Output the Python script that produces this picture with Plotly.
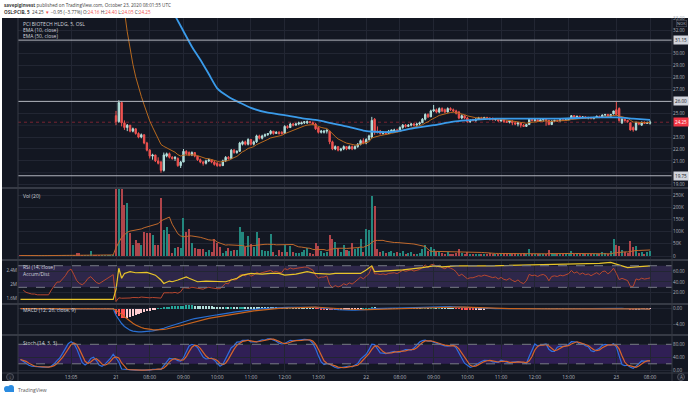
import plotly.graph_objects as go

# ------------------------------------------------------------------ data
tick_idx = [18, 34, 46, 58, 70, 82, 94, 106, 123, 135, 147, 159, 171, 183, 195, 212, 224]
tick_txt = ["13:05", "21", "08:00", "09:00", "10:00", "11:00", "12:00", "13:00", "22",
            "08:00", "09:00", "10:00", "11:00", "12:00", "13:00", "23", "08:00"]

open_ = [
    45.4, 45.3, 45.1, 44.9, 44.8, 44.7, 44.7, 44.6, 44.6, 44.6, 44.6, 44.6, 44.7, 44.8, 44.9, 44.9, 45.0,
    45.1, 45.3, 45.4, 45.2, 44.9, 44.7, 44.6, 44.7, 44.9, 45.0, 44.8, 44.6, 44.5, 44.6, 44.7, 44.8, 44.9,
    24.8, 24.3, 25.9, 24.2, 23.8, 24.0, 23.5, 23.7, 23.3, 23.0,
    23.2, 22.5, 21.9, 21.4, 21.5, 21.0, 20.9, 20.2, 21.4, 21.6,
    21.3, 21.2, 21.2, 20.6, 20.9, 21.8, 21.7, 21.5, 21.7, 21.4,
    21.1, 20.9, 20.8, 21.0, 21.1, 20.9, 20.8, 20.7, 20.6, 21.0,
    21.3, 21.2, 21.9, 21.7, 21.8, 22.4, 22.6, 22.4, 22.8, 22.4,
    22.6, 23.1, 22.9, 23.1, 23.2, 23.3, 23.5, 23.3, 23.4, 23.4,
    23.3, 23.9, 23.8, 24.1, 24.0, 24.1, 24.1, 24.2, 24.2, 24.3,
    24.2, 24.1, 23.8, 23.4, 23.4, 23.5, 23.5, 22.6, 22.0, 22.2,
    21.9, 22.0, 22.2, 22.0, 22.2, 22.0, 22.2, 22.4, 22.7, 22.5,
    22.8, 23.0, 24.5,
    23.5, 23.5, 23.3, 23.4, 23.3, 23.5, 23.5, 23.6, 23.5, 23.8,
    24.0, 23.9, 24.0, 24.1, 24.0, 24.1, 24.2, 24.5, 24.9, 24.7,
    25.2, 25.3, 25.1, 25.4, 25.3, 25.1, 25.4, 25.3, 25.2, 25.1,
    24.6, 24.8, 24.6, 24.3, 24.5, 24.4, 24.5, 24.6, 24.55, 24.65,
    24.6, 24.6, 24.45, 24.5, 24.35, 24.45, 24.3, 24.25, 24.35, 24.2,
    24.1, 24.2, 24.0, 23.9, 24.05, 24.5, 24.4, 24.45, 24.35, 24.45,
    24.5, 24.4, 24.05, 24.35, 24.4, 24.35, 24.45, 24.4, 24.45, 24.55,
    24.8, 24.65, 24.75, 24.6, 24.7, 24.6, 24.65, 24.55, 24.65, 24.75,
    24.65, 24.85, 24.9, 24.75, 24.95,
    25.3, 25.4, 24.2, 24.5, 24.4, 24.2, 23.8, 23.6, 24.2, 24.0, 24.25, 24.15, 24.16,
]
high_ = [
    45.5, 45.4, 45.2, 45.0, 44.9, 44.8, 44.8, 44.7, 44.7, 44.7, 44.7, 44.8, 44.9, 45.0, 45.0, 45.1, 45.2,
    45.4, 45.5, 45.5, 45.3, 45.0, 44.8, 44.8, 45.0, 45.1, 45.1, 44.9, 44.7, 44.7, 44.8, 44.9, 45.0, 45.1,
    25.2, 26.1, 26.0, 24.4, 24.1, 24.0, 23.8, 23.7, 23.4, 23.3,
    23.2, 22.6, 22.0, 21.6, 21.5, 21.3, 21.0, 21.7, 21.7, 21.7,
    21.4, 21.4, 21.3, 21.0, 22.0, 21.9, 21.8, 21.8, 21.7, 21.4,
    21.2, 21.0, 21.1, 21.2, 21.1, 21.0, 20.9, 20.8, 21.1, 21.4,
    21.4, 22.0, 22.0, 21.9, 22.6, 22.7, 22.7, 22.9, 22.8, 22.7,
    23.2, 23.2, 23.2, 23.3, 23.3, 23.6, 23.5, 23.5, 23.5, 23.5,
    24.0, 24.0, 24.2, 24.2, 24.2, 24.3, 24.3, 24.3, 24.4, 24.3,
    24.3, 24.2, 23.8, 23.6, 23.6, 23.6, 23.5, 22.7, 22.3, 22.2,
    22.1, 22.3, 22.2, 22.3, 22.3, 22.3, 22.5, 22.8, 22.9, 22.9,
    23.2, 24.7, 24.6,
    23.9, 23.6, 23.5, 23.5, 23.6, 23.6, 23.7, 23.7, 23.9, 24.1,
    24.1, 24.1, 24.2, 24.2, 24.2, 24.3, 24.6, 25.0, 25.0, 25.3,
    25.7, 25.4, 25.5, 25.5, 25.4, 25.5, 25.5, 25.4, 25.3, 25.2,
    24.9, 24.8, 24.7, 24.5, 24.5, 24.6, 24.7, 24.7, 24.7, 24.7,
    24.65, 24.6, 24.6, 24.55, 24.5, 24.5, 24.4, 24.4, 24.4, 24.3,
    24.25, 24.2, 24.1, 24.1, 24.6, 24.6, 24.5, 24.5, 24.5, 24.55,
    24.5, 24.45, 24.4, 24.45, 24.45, 24.5, 24.5, 24.5, 24.6, 24.85,
    24.85, 24.8, 24.8, 24.75, 24.75, 24.7, 24.7, 24.7, 24.8, 24.8,
    24.9, 24.95, 24.95, 24.95, 25.2,
    26.0, 25.5, 24.6, 24.55, 24.45, 24.2, 23.9, 24.3, 24.25, 24.3, 24.3, 24.3, 24.40,
]
low_ = [
    45.2, 45.0, 44.8, 44.7, 44.6, 44.6, 44.5, 44.5, 44.5, 44.5, 44.5, 44.5, 44.6, 44.7, 44.8, 44.8, 44.9,
    45.0, 45.2, 45.1, 44.8, 44.6, 44.5, 44.5, 44.6, 44.8, 44.7, 44.5, 44.4, 44.4, 44.5, 44.6, 44.7, 44.8,
    24.0, 24.2, 23.9, 23.6, 23.5, 23.4, 23.4, 23.2, 22.9, 22.9,
    22.4, 21.8, 21.2, 21.1, 20.9, 20.7, 20.0, 20.1, 21.3, 21.2,
    21.1, 21.0, 20.5, 20.4, 20.9, 21.5, 21.4, 21.4, 21.3, 21.0,
    20.8, 20.6, 20.7, 20.9, 20.8, 20.6, 20.5, 20.5, 20.6, 20.9,
    21.1, 21.2, 21.6, 21.6, 21.8, 22.3, 22.3, 22.3, 22.3, 22.3,
    22.5, 22.8, 22.8, 23.0, 23.1, 23.2, 23.2, 23.3, 23.2, 23.2,
    23.3, 23.7, 23.8, 23.9, 24.0, 24.0, 24.1, 24.1, 24.1, 24.2,
    24.0, 23.6, 23.3, 23.3, 23.3, 23.3, 22.4, 21.9, 21.9, 21.8,
    21.8, 21.9, 21.9, 22.0, 21.9, 22.0, 22.1, 22.3, 22.4, 22.4,
    22.7, 22.9, 23.2,
    23.3, 23.2, 23.2, 23.2, 23.3, 23.4, 23.4, 23.4, 23.5, 23.7,
    23.8, 23.9, 23.9, 23.9, 24.0, 24.0, 24.2, 24.4, 24.6, 24.7,
    25.1, 25.0, 25.0, 25.1, 25.0, 25.1, 25.2, 25.1, 24.9, 24.5,
    24.5, 24.5, 24.2, 24.2, 24.3, 24.3, 24.5, 24.5, 24.5, 24.5,
    24.4, 24.4, 24.4, 24.3, 24.3, 24.2, 24.2, 24.15, 24.0, 24.0,
    23.9, 23.8, 23.85, 24.0, 24.3, 24.3, 24.3, 24.3, 24.4, 24.3,
    23.95, 24.0, 24.3, 24.3, 24.3, 24.35, 24.35, 24.4, 24.5, 24.6,
    24.6, 24.55, 24.55, 24.55, 24.55, 24.5, 24.5, 24.5, 24.6, 24.6,
    24.6, 24.75, 24.7, 24.7, 24.9,
    24.8, 24.3, 24.1, 24.3, 24.2, 23.55, 23.45, 23.55, 24.0, 23.95, 24.1, 24.1, 24.05,
]
close_ = [
    45.3, 45.1, 44.9, 44.8, 44.7, 44.7, 44.6, 44.6, 44.6, 44.6, 44.6, 44.7, 44.8, 44.9, 44.9, 45.0, 45.1,
    45.3, 45.4, 45.2, 44.9, 44.7, 44.6, 44.7, 44.9, 45.0, 44.8, 44.6, 44.5, 44.6, 44.7, 44.8, 44.9, 45.0,
    24.3, 25.9, 24.2, 23.8, 24.0, 23.5, 23.7, 23.3, 23.0, 23.2,
    22.5, 21.9, 21.4, 21.5, 21.0, 20.8, 20.2, 21.5, 21.6, 21.3,
    21.2, 21.3, 20.6, 20.9, 21.8, 21.6, 21.5, 21.7, 21.4, 21.1,
    20.9, 20.8, 21.0, 21.1, 20.9, 20.7, 20.6, 20.6, 21.0, 21.3,
    21.2, 21.9, 21.7, 21.8, 22.5, 22.6, 22.4, 22.8, 22.4, 22.6,
    23.1, 22.9, 23.1, 23.2, 23.3, 23.5, 23.3, 23.4, 23.3, 23.3,
    23.9, 23.8, 24.1, 24.0, 24.1, 24.2, 24.2, 24.3, 24.3, 24.2,
    24.1, 23.7, 23.4, 23.5, 23.5, 23.6, 22.6, 22.0, 22.2, 21.9,
    22.0, 22.2, 22.0, 22.2, 22.0, 22.2, 22.4, 22.7, 22.5, 22.8,
    23.1, 24.4, 23.4,
    23.4, 23.3, 23.4, 23.3, 23.5, 23.6, 23.6, 23.5, 23.8, 24.0,
    23.9, 24.0, 24.1, 24.0, 24.1, 24.2, 24.5, 24.9, 24.7, 25.2,
    25.3, 25.1, 25.4, 25.2, 25.1, 25.4, 25.3, 25.2, 25.0, 24.6,
    24.8, 24.6, 24.3, 24.4, 24.4, 24.5, 24.6, 24.55, 24.65, 24.6,
    24.5, 24.45, 24.5, 24.35, 24.45, 24.3, 24.25, 24.35, 24.2, 24.1,
    24.2, 24.0, 23.9, 24.05, 24.5, 24.4, 24.45, 24.35, 24.45, 24.5,
    24.4, 24.05, 24.35, 24.4, 24.35, 24.45, 24.4, 24.45, 24.55, 24.8,
    24.65, 24.75, 24.6, 24.7, 24.6, 24.65, 24.55, 24.65, 24.75, 24.65,
    24.85, 24.9, 24.75, 24.9, 25.2,
    24.9, 24.4, 24.5, 24.4, 24.3, 23.6, 23.6, 24.2, 24.1, 24.25, 24.15, 24.2, 24.25,
]
volume_k = [
    2, 1, 3, 1, 2, 1, 1, 2, 1, 3, 2, 1, 2, 3, 2, 1, 2, 4, 3, 2, 14, 11, 3, 2, 2, 22, 3, 2, 1, 2, 3, 2, 2, 3,
    600, 450, 400, 209, 216, 93, 45, 65, 52, 45,
    100, 93, 96, 86, 45, 45, 236, 107, 120, 90,
    11, 31, 38, 31, 154, 100, 109, 52, 31, 29,
    27, 27, 18, 25, 18, 68, 52, 38, 14, 22,
    31, 22, 25, 25, 120, 100, 38, 82, 49, 38,
    97, 72, 25, 22, 22, 90, 18, 4, 25, 18,
    45, 18, 41, 18, 14, 14, 18, 25, 31, 14,
    8, 52, 41, 20, 14, 18, 86, 68, 59, 31,
    18, 45, 25, 22, 52, 27, 31, 68, 18, 109,
    106, 247, 205, 27, 18, 20, 14, 18, 20, 14,
    18, 14, 20, 10, 12, 15, 8, 10, 14, 30,
    45, 20, 35, 28, 15, 18, 12, 10, 15, 8,
    10, 14, 30, 12, 10, 18, 8, 6, 8, 10,
    5, 6, 5, 12, 8, 5, 10, 6, 8, 5,
    6, 8, 12, 6, 10, 14, 8, 30, 10, 6,
    8, 6, 5, 8, 25, 12, 6, 5, 6, 5,
    6, 10, 20, 8, 6, 8, 5, 6, 5, 8,
    6, 10, 8, 15, 12, 10, 20, 68, 45, 40,
    25, 15, 12, 63, 35, 40, 12, 18, 10, 15, 20,
]
# EMA(50) (bar index, price)
ema50_idx = [50, 53, 55, 58, 61, 64, 67, 70, 74, 78, 82, 88, 94, 100, 106, 110, 116, 122, 126, 133,
             140, 147, 154, 159, 169, 180, 192, 204, 212, 218, 224]
ema50_val = [35.2, 34.0, 33.2, 31.9, 30.6, 29.5, 28.3, 27.1, 26.4, 25.9, 25.45, 25.05, 24.85, 24.6, 24.4, 24.2,
             23.9, 23.55, 23.45, 23.45, 23.75, 24.0, 24.3, 24.4, 24.55, 24.55, 24.55, 24.65, 24.65, 24.55, 24.45]
ad_idx = [0, 33, 34, 35, 36, 37, 39, 41, 45, 48, 50, 51, 53, 54, 56, 59, 60, 63, 66, 70,
          73, 77, 79, 82, 86, 89, 92, 94, 98, 102, 105, 110, 112, 117, 121, 123, 125, 126, 130, 136,
          143, 147, 150, 155, 168, 181, 194, 206, 210, 213, 216, 219, 224]
ad_m = [1.56, 1.56, 1.85, 2.46, 2.17, 2.31, 2.36, 2.33, 2.34, 2.26, 2.12, 2.02, 2.09, 2.07, 2.12, 2.21, 2.17, 2.07, 2.09, 2.07,
        2.07, 2.17, 2.26, 2.31, 2.29, 2.31, 2.31, 2.26, 2.29, 2.36, 2.31, 2.29, 2.31, 2.31, 2.31, 2.41, 2.53, 2.36, 2.38, 2.41,
        2.48, 2.53, 2.50, 2.53, 2.53, 2.55, 2.57, 2.60, 2.63, 2.55, 2.48, 2.50, 2.53]
level_prices = [31.15, 26.00, 19.75]
last_price = 24.25

# ------------------------------------------------------------------ indicators
N = len(close_)
X = list(range(N))


def ema(vals, n):
    a = 2.0 / (n + 1)
    out, prev = [], None
    for v in vals:
        prev = v if prev is None else a * v + (1 - a) * prev
        out.append(prev)
    return out


def sma(vals, n):
    out = []
    for i in range(len(vals)):
        w = vals[max(0, i - n + 1):i + 1]
        out.append(sum(w) / len(w))
    return out


def rsi(vals, n=14):
    g, l = [0.0], [0.0]
    for i in range(1, len(vals)):
        d = vals[i] - vals[i - 1]
        g.append(max(d, 0.0))
        l.append(max(-d, 0.0))
    ag = sum(g[1:n + 1]) / n
    al = sum(l[1:n + 1]) / n
    out = [None]
    for i in range(1, len(vals)):
        ag = (ag * (n - 1) + g[i]) / n
        al = (al * (n - 1) + l[i]) / n
        out.append(100 - 100 / (1 + ag / al) if al > 0 else 100)
    return out


def stoch(h, l, c, n=14, k=3, d=3):
    raw = []
    for i in range(len(c)):
        hh = max(h[max(0, i - n + 1):i + 1])
        ll = min(l[max(0, i - n + 1):i + 1])
        raw.append(100 * (c[i] - ll) / (hh - ll) if hh > ll else 50)
    kk = sma(raw, k)
    return kk, sma(kk, d)


ema10 = ema(close_, 10)
vol_ma = sma(volume_k, 20)
rsi14 = rsi(close_)
macd = [a - b for a, b in zip(ema(close_, 12), ema(close_, 26))]
signal = ema(macd, 9)
hist = [m - s for m, s in zip(macd, signal)]
stk, std = stoch(high_, low_, close_)

UP, DN = '#B2DFDB', '#EF5350'
vol_col = ['#23877E' if c >= o else '#B0454B' for o, c in zip(open_, close_)]
hist_col = []
for i, hv in enumerate(hist):
    prev = hist[i - 1] if i else hv
    if hv >= 0:
        hist_col.append('#26A69A' if hv > prev else '#B2DFDB')
    else:
        hist_col.append('#FFCDD2' if hv > prev else '#FF5252')

# ------------------------------------------------------------------ figure
W, H = 690, 396


def px(x):
    return x / W


def py(y):
    return 1 - y / H


BG = '#131722'
GRID = '#222633'
SEP = '#363A45'
TXT = '#B2B5BE'
FONT = 'Open Sans'
XD = [px(18), px(672)]
XR = [-0.87, 231.8]

fig = go.Figure()
fig.add_trace(go.Candlestick(
    x=X, open=open_, high=high_, low=low_, close=close_, xaxis='x', yaxis='y',
    increasing=dict(line=dict(color=UP, width=1), fillcolor=UP),
    decreasing=dict(line=dict(color=DN, width=1), fillcolor=DN),
    whiskerwidth=0, showlegend=False, hoverinfo='skip'))
fig.add_trace(go.Scatter(x=X, y=ema10, mode='lines', line=dict(color='#B8691E', width=1),
                         xaxis='x', yaxis='y', showlegend=False, hoverinfo='skip'))
fig.add_trace(go.Scatter(x=ema50_idx, y=ema50_val, mode='lines', line=dict(color='#3A9BEA', width=1.8, shape='spline', smoothing=0.6),
                         xaxis='x', yaxis='y', showlegend=False, hoverinfo='skip'))

fig.add_trace(go.Bar(x=X, y=volume_k, marker=dict(color=vol_col, line=dict(width=0)), width=0.72,
                     xaxis='x2', yaxis='y2', showlegend=False, hoverinfo='skip'))
fig.add_trace(go.Scatter(x=X, y=vol_ma, mode='lines', line=dict(color='#C0692C', width=1),
                         xaxis='x2', yaxis='y2', showlegend=False, hoverinfo='skip'))

fig.add_trace(go.Scatter(x=X, y=rsi14, mode='lines', line=dict(color='#B8472F', width=1),
                         xaxis='x3', yaxis='y3', showlegend=False, hoverinfo='skip'))
fig.add_trace(go.Scatter(x=ad_idx, y=[v * 1e6 for v in ad_m], mode='lines',
                         line=dict(color='#E8C42A', width=1.2),
                         xaxis='x3', yaxis='y6', showlegend=False, hoverinfo='skip'))

fig.add_trace(go.Bar(x=X, y=hist, marker=dict(color=hist_col, line=dict(width=0)), width=0.72,
                     xaxis='x4', yaxis='y4', showlegend=False, hoverinfo='skip'))
fig.add_trace(go.Scatter(x=X, y=macd, mode='lines', line=dict(color='#2A70D4', width=1.2),
                         xaxis='x4', yaxis='y4', showlegend=False, hoverinfo='skip'))
fig.add_trace(go.Scatter(x=X, y=signal, mode='lines', line=dict(color='#C8641E', width=1.2),
                         xaxis='x4', yaxis='y4', showlegend=False, hoverinfo='skip'))

fig.add_trace(go.Scatter(x=X, y=stk, mode='lines', line=dict(color='#2F6FE0', width=1.2),
                         xaxis='x5', yaxis='y5', showlegend=False, hoverinfo='skip'))
fig.add_trace(go.Scatter(x=X, y=std, mode='lines', line=dict(color='#D8652A', width=1.2),
                         xaxis='x5', yaxis='y5', showlegend=False, hoverinfo='skip'))


def xax(anchor, labels):
    return dict(domain=XD, range=XR, anchor=anchor, showgrid=True, gridcolor=GRID, gridwidth=1,
                zeroline=False, showline=False, ticks='', tickvals=tick_idx, ticktext=tick_txt,
                showticklabels=labels, tickfont=dict(size=5, color=TXT, family=FONT),
                automargin=False, fixedrange=True)


def yax(anchor, dom, rng, tv, tt, side='right', grid=True):
    return dict(domain=[py(dom[1]), py(dom[0])], range=rng, anchor=anchor, side=side,
                showgrid=grid, gridcolor=GRID, gridwidth=1, zeroline=False, showline=False,
                ticks='', tickvals=tv, ticktext=tt, tickfont=dict(size=4.6, color=TXT, family=FONT),
                automargin=False, fixedrange=True)


# ticks hidden behind the price boxes get only a grid line
covered = [20, 24, 26, 31]
price_ticks = [p for p in range(19, 34) if p not in covered]
layout = dict(
    width=W, height=H, margin=dict(l=0, r=0, t=0, b=0), autosize=False,
    paper_bgcolor='white', plot_bgcolor='rgba(0,0,0,0)', showlegend=False,
    bargap=0, barmode='overlay',
    font=dict(family=FONT, color=TXT, size=5),
    xaxis=dict(xax('y', False), rangeslider=dict(visible=False)),
    xaxis2=xax('y2', False), xaxis3=xax('y3', False), xaxis4=xax('y4', False),
    xaxis5=xax('y5', True),
    yaxis=yax('x', (18, 188), [18.72, 33.01], price_ticks, ['%.2f' % p for p in price_ticks]),
    yaxis2=yax('x2', (188, 260), [-16.4, 278.7], [0, 50, 100, 150, 200, 250],
               ['0', '50K', '100K', '150K', '200K', '250K']),
    yaxis3=yax('x3', (260, 304), [-0.9, 80.6], [20, 40, 60], ['20.00', '40.00', '60.00']),
    yaxis4=yax('x4', (304, 335), [-6.74, 1.2], [-4, 0], ['\u22124.00', '0.00']),
    yaxis5=yax('x5', (335, 373), [-8.3, 108.6], [0, 40, 80], ['0.00', '40.00', '80.00']),
    yaxis6=dict(yax('x3', (260, 304), [1.427e6, 2.698e6], [1.6e6, 2.0e6, 2.4e6], ['1.6M', '2M', '2.4M'],
                    side='left', grid=False), overlaying='y3'),
)
fig.update_layout(**layout)

shapes = []
# chart background
shapes.append(dict(type='rect', xref='paper', yref='paper', x0=px(2), x1=px(688), y0=py(381), y1=py(18),
                   fillcolor=BG, line=dict(width=0), layer='below'))
for gv in covered:
    shapes.append(dict(type='line', xref='paper', yref='y', x0=XD[0], x1=XD[1], y0=gv, y1=gv,
                       line=dict(color=GRID, width=1), layer='below'))
# bands
shapes.append(dict(type='rect', xref='paper', yref='y3', x0=XD[0], x1=XD[1], y0=30, y1=70,
                   fillcolor='rgba(126,87,194,0.25)', line=dict(width=0), layer='below'))
shapes.append(dict(type='rect', xref='paper', yref='y5', x0=XD[0], x1=XD[1], y0=20, y1=80,
                   fillcolor='rgba(110,50,190,0.33)', line=dict(width=0), layer='below'))
for yr, v in (('y3', 70), ('y3', 30), ('y5', 80), ('y5', 20)):
    shapes.append(dict(type='line', xref='paper', yref=yr, x0=XD[0], x1=XD[1], y0=v, y1=v,
                       line=dict(color='#787B86', width=1, dash='dash'), layer='above'))
# price levels
for lv in level_prices:
    shapes.append(dict(type='line', xref='paper', yref='y', x0=XD[0], x1=XD[1], y0=lv, y1=lv,
                       line=dict(color='#B2B5BE', width=1), layer='above'))
shapes.append(dict(type='line', xref='paper', yref='y', x0=XD[0], x1=XD[1], y0=last_price, y1=last_price,
                   line=dict(color='rgba(242,54,69,0.45)', width=1, dash='dot'), layer='below'))
# separators
for yy in (188, 260, 304, 335, 373):
    shapes.append(dict(type='line', xref='paper', yref='paper', x0=px(2), x1=px(688), y0=py(yy), y1=py(yy),
                       line=dict(color=SEP, width=2 if yy != 373 else 1)))
for xx in (18, 672):
    shapes.append(dict(type='line', xref='paper', yref='paper', x0=px(xx), x1=px(xx), y0=py(381), y1=py(18),
                       line=dict(color=SEP, width=1)))
# bottom icons
for cx in (10, 681):
    shapes.append(dict(type='circle', xref='paper', yref='paper', x0=px(cx - 3.5), x1=px(cx + 3.5),
                       y0=py(380.5), y1=py(373.5), line=dict(color='#50535E', width=1), fillcolor='#1E222D'))
# logo
shapes.append(dict(type='circle', xref='paper', yref='paper', x0=px(4), x1=px(10), y0=py(392), y1=py(386),
                   fillcolor='#2A8BE0', line=dict(width=0)))
shapes.append(dict(type='circle', xref='paper', yref='paper', x0=px(8), x1=px(14), y0=py(391), y1=py(385),
                   fillcolor='#2A8BE0', line=dict(width=0)))
shapes.append(dict(type='rect', xref='paper', yref='paper', x0=px(5), x1=px(14), y0=py(392), y1=py(389),
                   fillcolor='#2A8BE0', line=dict(width=0)))
fig.update_layout(shapes=shapes)

ann = []


def txt(x, y, s, size=5, color='#D1D4DC', xanchor='left', **kw):
    ann.append(dict(x=px(x), y=py(y), xref='paper', yref='paper', text=s, showarrow=False,
                    xanchor=xanchor, yanchor='middle', font=dict(size=size, color=color, family=FONT), **kw))


RED = '#EF5350'
txt(2, 5, '<b>savepiginvest</b> published on TradingView.com, October 23, 2020 08:01:35 UTC', 4.6, '#3C3C3C')
txt(2, 11.5, ("<b>OSL:PCIB, 5</b>  24.25 <span style='color:%s'>\u25bc</span> \u22120.95 (\u22123.77%%) "
              "O:<span style='color:%s'>24.16</span> H:<span style='color:%s'>24.40</span> "
              "L:<span style='color:%s'>24.05</span> C:<span style='color:%s'>24.25</span>")
    % (RED, RED, RED, RED, RED), 4.6, '#3C3C3C')
txt(21, 23.5, 'PCI BIOTECH HLDG, 5, OSL', 5)
txt(21, 29.5, 'EMA (10, close)', 5)
txt(21, 35.5, 'EMA (50, close)', 5)
txt(21, 196, 'Vol (20)', 5)
txt(21, 267, 'RSI (14, close)', 5)
txt(21, 273.5, 'Accum/Dist', 5)
txt(21, 310, 'MACD (12, 26, close, 9)', 5)
txt(21, 342.5, 'Stoch (14, 3, 3)', 5)
txt(16, 390, 'TradingView', 5, '#555555')
txt(10, 377, '\u2195', 4.5, '#9598A1', xanchor='center')
txt(681, 377, 'A', 4.5, '#9598A1', xanchor='center')
# right axis boxes
for lv in level_prices:
    ann.append(dict(x=px(681), y=lv, xref='paper', yref='y', text='%.2f' % lv, showarrow=False,
                    xanchor='center', yanchor='middle', bgcolor='#D1D4DC', borderpad=1,
                    font=dict(size=4.6, color='#131722', family=FONT)))
ann.append(dict(x=px(681), y=last_price, xref='paper', yref='y', text='%.2f' % last_price, showarrow=False,
                xanchor='center', yanchor='middle', bgcolor='#F23645', borderpad=1,
                font=dict(size=4.6, color='white', family=FONT)))
ann.append(dict(x=px(681), y=py(24), xref='paper', yref='paper', text='NOK', showarrow=False,
                xanchor='center', yanchor='middle', bgcolor=BG, bordercolor='#50535E', borderwidth=0.6,
                borderpad=0.5, font=dict(size=4, color=TXT, family=FONT)))
fig.update_layout(annotations=ann)

fig.write_html("out.html", config={'displayModeBar': False},
               post_script="document.body.style.margin='0';document.body.style.overflow='hidden';")
